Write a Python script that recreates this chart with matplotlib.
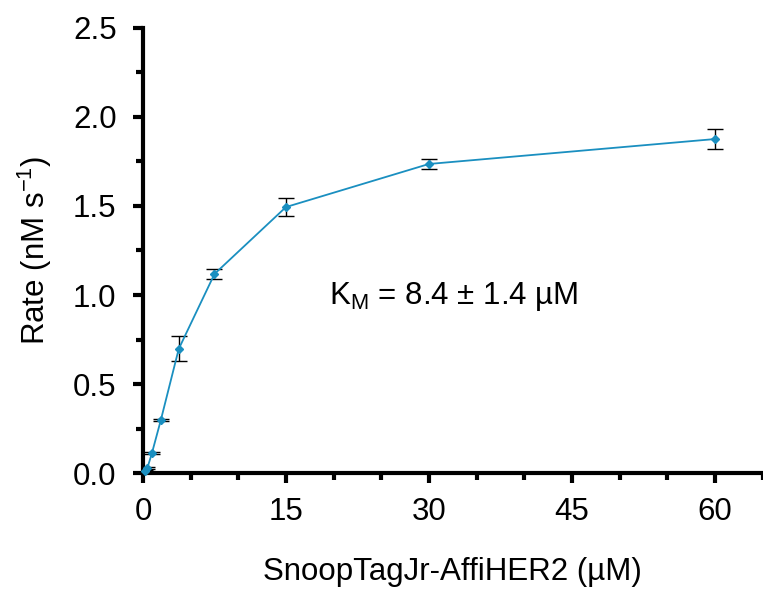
import matplotlib
matplotlib.use("Agg")
import matplotlib.pyplot as plt
from matplotlib.ticker import MultipleLocator

plt.rcParams['font.family'] = ['Liberation Sans', 'DejaVu Sans']

# SnoopTagJr-AffiHER2 concentration (uM) and measured rate (nM/s)
conc = [0.23, 0.47, 0.94, 1.875, 3.75, 7.5, 15, 30, 60]
rate = [0.01, 0.03, 0.112, 0.298, 0.697, 1.118, 1.494, 1.736, 1.876]
err = [0.005, 0.005, 0.006, 0.005, 0.07, 0.03, 0.05, 0.03, 0.056]

fig = plt.figure(figsize=(7.63, 5.95), dpi=100)
ax = fig.add_axes([0.1874, 0.205, 0.812, 0.748])

ax.errorbar(conc, rate, yerr=err, fmt='none', ecolor='black', elinewidth=1,
            capsize=6, capthick=1, zorder=2)
ax.plot(conc, rate, '-D', color='#1a8fc0', lw=1.3, ms=4, zorder=3, clip_on=False)

ax.text(19.5, 0.99, r'K$_\mathregular{M}$ = 8.4 ± 1.4 µM', fontsize=22.5, va='center')

ax.set_xlim(0, 65)
ax.set_ylim(0, 2.5)
ax.xaxis.set_major_locator(MultipleLocator(15))
ax.xaxis.set_minor_locator(MultipleLocator(5))
ax.yaxis.set_major_locator(MultipleLocator(0.5))
ax.yaxis.set_minor_locator(MultipleLocator(0.25))
ax.yaxis.set_major_formatter(plt.FormatStrFormatter('%.1f'))

for s in ['top', 'right']:
    ax.spines[s].set_visible(False)
for s in ['left', 'bottom']:
    ax.spines[s].set_linewidth(3)

ax.tick_params(which='major', length=7, width=3, labelsize=22.5)
ax.tick_params(axis='y', which='major', pad=12)
ax.tick_params(axis='x', which='major', pad=10)
ax.tick_params(which='minor', length=5, width=3)

ax.set_xlabel('SnoopTagJr-AffiHER2 (µM)', fontsize=22.5, labelpad=22)
ax.set_ylabel(r'Rate (nM s$^\mathregular{-1}$)', fontsize=22.5, labelpad=14)

fig.savefig('out.png', dpi=100)
